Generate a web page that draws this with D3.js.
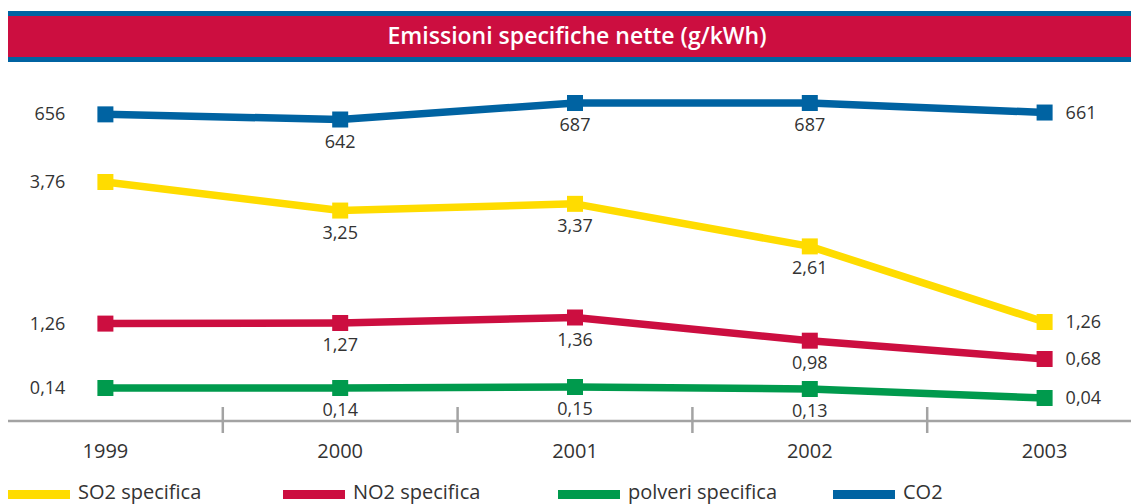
<!DOCTYPE html>
<html>
<head>
<meta charset="utf-8">
<script src="https://cdn.jsdelivr.net/npm/d3@7"></script>
<style>
  body { margin: 0; background: #fff; }
  svg { display: block; font-family: "Open Sans", sans-serif; }
</style>
</head>
<body>
<div id="chart"></div>
<script>
// data
const years = ["1999", "2000", "2001", "2002", "2003"];
const so2 = [3.76, 3.25, 3.37, 2.61, 1.26];
const no2 = [1.26, 1.27, 1.36, 0.98, 0.68];
const polveri = [0.14, 0.14, 0.15, 0.13, 0.04];
const co2 = [656, 642, 687, 687, 661];
const seriesNames = ["SO2 specifica", "NO2 specifica", "polveri specifica", "CO2"];
const title = "Emissioni specifiche nette (g/kWh)";

const W = 1131, H = 504;
const blue = "#0063a2", red = "#cc0e40", yellow = "#ffdc00", green = "#009a4d";

const it = d3.formatLocale({ decimal: ",", thousands: ".", grouping: [3], currency: ["€", ""] });

// each series sits in its own band of the chart (pixel for min, pixel for max)
const series = [
    { name: seriesNames[3], values: co2, color: blue, band: [119.5, 103], fmt: it.format("d") },
    { name: seriesNames[0], values: so2, color: yellow, band: [322, 182], fmt: it.format(".2f") },
    { name: seriesNames[1], values: no2, color: red, band: [359, 317.5], fmt: it.format(".2f") },
    { name: seriesNames[2], values: polveri, color: green, band: [398, 387], fmt: it.format(".2f") }
];

const svg = d3.select("#chart").append("svg")
    .attr("width", W)
    .attr("height", H);

// TITLE BANNER
svg.append("rect").attr("x", 8).attr("y", 11).attr("width", W - 8).attr("height", 51).attr("fill", blue);
svg.append("rect").attr("x", 8).attr("y", 16).attr("width", W - 8).attr("height", 41).attr("fill", red);
svg.append("text")
    .attr("x", 577).attr("y", 44)
    .attr("text-anchor", "middle")
    .attr("fill", "#fff")
    .style("font-size", "23px")
    .style("font-weight", 600)
    .attr("textLength", 379)
    .attr("lengthAdjust", "spacingAndGlyphs")
    .text(title);

// SCALES
const x = d3.scaleBand()
    .domain(years)
    .range([-12, 1162]);

const cx = (d) => x(d) + x.bandwidth() / 2;

// AXIS
const axisY = 421;
svg.append("line")
    .attr("x1", 8).attr("x2", W)
    .attr("y1", axisY).attr("y2", axisY)
    .attr("stroke", "#a3a3a3").attr("stroke-width", 2.5);

svg.selectAll(".sep").data(years.slice(1)).enter()
    .append("line")
    .attr("class", "sep")
    .attr("x1", (d) => x(d)).attr("x2", (d) => x(d))
    .attr("y1", axisY - 14).attr("y2", axisY + 12)
    .attr("stroke", "#a3a3a3").attr("stroke-width", 2.5);

svg.selectAll(".year").data(years).enter()
    .append("text")
    .attr("class", "year")
    .attr("x", cx)
    .attr("y", 458)
    .attr("text-anchor", "middle")
    .attr("fill", "#333")
    .style("font-size", "20px")
    .text((d) => d);

// LINES
const line = d3.line()
    .x((d, i) => cx(years[i]));

series.forEach((s) => {
    const y = d3.scaleLinear()
        .domain(d3.extent(s.values))
        .range(s.band);

    const g = svg.append("g");

    g.append("path")
        .attr("d", line.y((d) => y(d))(s.values))
        .attr("fill", "none")
        .attr("stroke", s.color)
        .attr("stroke-width", 7.5)
        .attr("stroke-linejoin", "round");

    g.selectAll("rect").data(s.values).enter()
        .append("rect")
        .attr("x", (d, i) => cx(years[i]) - 8)
        .attr("y", (d) => y(d) - 8)
        .attr("width", 16).attr("height", 16)
        .attr("fill", s.color);

    g.selectAll("text").data(s.values).enter()
        .append("text")
        .attr("x", (d, i) => {
            if (i === 0) return cx(years[i]) - 40;
            if (i === years.length - 1) return cx(years[i]) + 21;
            return cx(years[i]);
        })
        .attr("y", (d, i) => (i === 0 || i === years.length - 1) ? y(d) + 6 : y(d) + 28)
        .attr("text-anchor", (d, i) => i === 0 ? "end" : (i === years.length - 1 ? "start" : "middle"))
        .attr("fill", "#333")
        .style("font-size", "18px")
        .text((d) => s.fmt(d));
});

// LEGEND
const legendOrder = [
    { name: seriesNames[0], color: yellow },
    { name: seriesNames[1], color: red },
    { name: seriesNames[2], color: green },
    { name: seriesNames[3], color: blue }
];
const lx = d3.scalePoint().domain(legendOrder.map((d) => d.name)).range([8, 833]);

const leg = svg.selectAll(".leg").data(legendOrder).enter()
    .append("g")
    .attr("class", "leg")
    .attr("transform", (d) => "translate(" + lx(d.name) + ",0)");

leg.append("rect")
    .attr("x", 0).attr("y", 490)
    .attr("width", 62).attr("height", 9)
    .attr("fill", (d) => d.color);

leg.append("text")
    .attr("x", 70).attr("y", 499)
    .attr("fill", "#333")
    .style("font-size", "20px")
    .text((d) => d.name);
</script>
</body>
</html>
